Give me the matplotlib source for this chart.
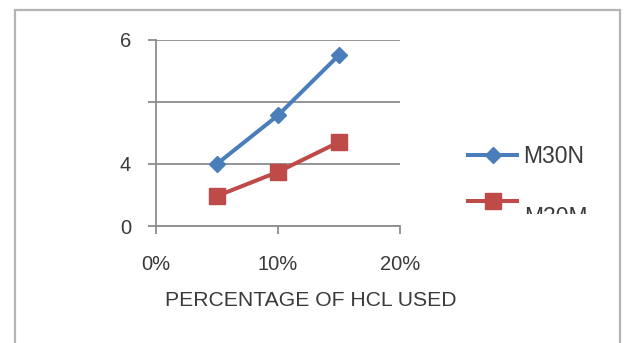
import numpy as np
import matplotlib
matplotlib.use("Agg")
import matplotlib.pyplot as plt
from matplotlib.patches import Rectangle
from matplotlib.transforms import Bbox, TransformedBbox
from matplotlib.ticker import FixedLocator, FixedFormatter, PercentFormatter

# Data
hcl_pct = [0.05, 0.10, 0.15]
m30n = [4.0, 4.78, 5.75]
m30m = [1.93, 3.48, 4.35]
series_names = ["M30N", "M30M"]
x_ticks = [0.0, 0.10, 0.20]
y_ticks = [0, 4, 5, 6]
y_tick_labels = ["0", "4", "", "6"]

BLUE = "#4A7EBB"
RED = "#BE4B48"
GRID = "#8C8C8C"
TEXT = "#3A3A3A"
FONT = "Liberation Sans"

plt.rcParams["font.family"] = [FONT, "DejaVu Sans"]

W, H, DPI = 625, 343, 100
fig = plt.figure(figsize=(W / DPI, H / DPI), dpi=DPI)
fig.patch.set_facecolor("white")

# outer chart frame
frame = Rectangle((15 / W, -0.05), (620 - 15) / W, 1.05 - 10 / H,
                  transform=fig.transFigure, fill=False,
                  edgecolor="#B4B4B4", linewidth=1.6)
fig.patches.append(frame)

ax = fig.add_axes([156 / W, 1 - 226 / H, (400 - 156) / W, (226 - 39.5) / H])


def fwd(y):
    y = np.asarray(y, dtype=float)
    return np.where(y <= 4, y / 4.0, y - 3.0)


def inv(u):
    u = np.asarray(u, dtype=float)
    return np.where(u <= 1, u * 4.0, u + 3.0)


ax.set_yscale("function", functions=(fwd, inv))
ax.set_ylim(0, 6)
ax.set_xlim(0, 0.20)

ax.yaxis.set_major_locator(FixedLocator(y_ticks))
ax.yaxis.set_major_formatter(FixedFormatter(y_tick_labels))
ax.yaxis.set_minor_locator(FixedLocator([]))
ax.xaxis.set_major_locator(FixedLocator(x_ticks))
ax.xaxis.set_major_formatter(PercentFormatter(xmax=1.0, decimals=0))

ax.grid(axis="y", color=GRID, linewidth=1.3)
ax.set_axisbelow(True)
for side in ("top", "right"):
    ax.spines[side].set_visible(False)
for side in ("left", "bottom"):
    ax.spines[side].set_color(GRID)
    ax.spines[side].set_linewidth(1.3)

ax.tick_params(axis="both", colors=GRID, width=1.3, length=6,
               labelcolor=TEXT, labelsize=14.5)
ax.tick_params(axis="y", pad=12)
ax.tick_params(axis="x", pad=15)

l1, = ax.plot(hcl_pct, m30n, color=BLUE, linewidth=2.9, marker="D",
              markersize=8, label=series_names[0], clip_on=False, zorder=3)
l2, = ax.plot(hcl_pct, m30m, color=RED, linewidth=2.9, marker="s",
              markersize=11.5, label=series_names[1], clip_on=False, zorder=3)

ax.set_xlabel("PERCENTAGE OF HCL USED", fontsize=15.2, color=TEXT)
ax.xaxis.set_label_coords((311 - 156) / (400 - 156), -0.40)
ax.xaxis.label.set_verticalalignment("center")

leg = fig.legend(handles=[l1, l2], loc="upper left",
                 bbox_to_anchor=(457 / W, 1 - 134 / H),
                 frameon=False, fontsize=16.5, handlelength=2.1,
                 handletextpad=0.3, labelspacing=1.0, borderpad=0)
texts = leg.get_texts()
texts[0].set_color(TEXT)
texts[1].set_visible(False)

# the lower legend label sits lower and is cut off by the legend area
m30m_lab = fig.text(524 / W, 1 - 206.5 / H, series_names[1], fontsize=16.5,
                    color=TEXT, ha="left", va="top")
clip = Bbox.from_extents(0, 1 - 213.5 / H, 1, 1)
m30m_lab.set_clip_box(TransformedBbox(clip, fig.transFigure))
m30m_lab.set_clip_on(True)

fig.savefig("out.png", dpi=DPI, facecolor="white")
